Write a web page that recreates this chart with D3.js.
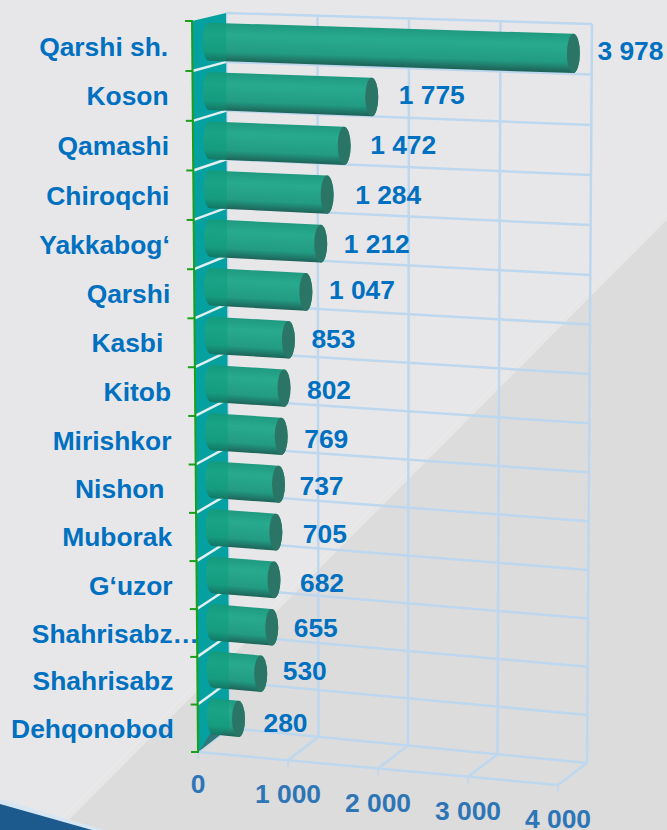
<!DOCTYPE html>
<html>
<head>
<meta charset="utf-8">
<script src="https://cdn.jsdelivr.net/npm/d3@7"></script>
<style>
html,body{margin:0;padding:0;background:#e7e7e9;}
svg{display:block;}
text{font-family:"Liberation Sans",Arial,sans-serif;font-weight:700;white-space:pre;}
</style>
</head>
<body>
<div id="chart"></div>
<script>
var categories = ['Qarshi sh.','Koson','Qamashi','Chiroqchi','Yakkabog‘','Qarshi','Kasbi ','Kitob','Mirishkor','Nishon ','Muborak','G‘uzor','Shahrisabz…','Shahrisabz','Dehqonobod'];
var values     = [3978,1775,1472,1284,1212,1047,853,802,769,737,705,682,655,530,280];
var tickValues = [0,1000,2000,3000,4000];

// hand placed label shifts, the source chart has them dragged around
var labelDx = [-3,0,-1,1,-4,-4,-4,-4,-4,-6,0,-1,-5,-5,-2];
var labelDy = [2,2,3,4,4,2,3,6,7,6,6,7,5,1,8];

var W = 667, H = 830;
var svg = d3.select('#chart').append('svg').attr('width',W).attr('height',H);
var defs = svg.append('defs');
var fmt = d3.formatLocale({decimal:'.',thousands:' ',grouping:[3],currency:['','']}).format(',d');

// background
svg.append('rect').attr('width',W).attr('height',H).attr('fill','#e7e7e9');
svg.append('path').attr('d','M667,215L60,822L70,830L667,830Z').attr('fill','#dcdcdc');
svg.append('path').attr('d','M667,212L57,822L63,826L667,220Z').attr('fill','#e9e9ea').attr('opacity',0.7);
svg.append('path').attr('d','M0,799L104,830L0,830Z').attr('fill','#d6e6f2');
svg.append('path').attr('d','M0,804L92,830L0,830Z').attr('fill','#1c5a8e');

// box corners, value -> edge position
var vDom = [0,4000];
var backTopX  = d3.scaleLinear().domain(vDom).range([226,592]);
var backTopY  = d3.scaleLinear().domain(vDom).range([13,24]);
var backBotX  = d3.scaleLinear().domain(vDom).range([229,587]);
var backBotY  = d3.scaleLinear().domain(vDom).range([728,763]);
var frontTopX = d3.scaleLinear().domain(vDom).range([192,559]);
var frontTopY = d3.scaleLinear().domain(vDom).range([21,32]);
var frontBotX = d3.scaleLinear().domain(vDom).range([198,558]);
var frontBotY = d3.scaleLinear().domain(vDom).range([752,785]);
var row = d3.scaleBand().domain(categories).range([0,1]);
var bw = row.bandwidth();

// t = 0..1 down the wall, d = 0 front, 1 back
function pt(v,t,d){
    t = t+0.028*t*(1-t); // rows get a bit shorter toward the bottom
    var fx = frontTopX(v)+(frontBotX(v)-frontTopX(v))*t, fy = frontTopY(v)+(frontBotY(v)-frontTopY(v))*t;
    var bx = backTopX(v)+(backBotX(v)-backTopX(v))*t,   by = backTopY(v)+(backBotY(v)-backTopY(v))*t;
    return [fx+(bx-fx)*d, fy+(by-fy)*d];
}
function seg(sel,a,b,color,width){
    return sel.append('line').attr('x1',a[0]).attr('y1',a[1]).attr('x2',b[0]).attr('y2',b[1])
        .attr('stroke',color).attr('stroke-width',width);
}
var rowEdges = d3.range(categories.length+1).map(function(i){ return i*bw; });
var GRID = '#bdd7ee';

// grid on back wall and floor
var grid = svg.append('g');
rowEdges.forEach(function(t){ seg(grid,pt(0,t,1),pt(4000,t,1),GRID,2.5); });
tickValues.forEach(function(v){
    seg(grid,pt(v,0,1),pt(v,1,1),GRID,2.5);
    seg(grid,pt(v,1,0),pt(v,1,1),GRID,2.5);
    var f = pt(v,1,0);
    seg(grid,f,[f[0],f[1]+7],GRID,1.5);
});
seg(grid,pt(0,1,0),pt(4000,1,0),GRID,2.5);

// side wall
var wallPts = [pt(0,0,0),pt(0,0,1),pt(0,1,1),pt(0,1,0)];
svg.append('polygon').attr('points',wallPts.join(' ')).attr('fill','#05a0a0');
defs.append('clipPath').attr('id','wallClip').append('polygon').attr('points',wallPts.join(' '));
var wallLines = svg.append('g');
rowEdges.slice(1,-1).forEach(function(t){ seg(wallLines,pt(0,t,0),pt(0,t,1),'#e2eff1',2.5); });
// shadow of the last bar on the wall foot
svg.append('polygon').attr('points',[pt(0,1,0.05),pt(0,1,0.8),pt(0,0.975,0.75)].join(' ')).attr('fill','#555').attr('opacity',0.55);

// cylinders
var barG = svg.append('g');
var R = 0.385*bw, RX = 6.5;
categories.forEach(function(c,i){
    var tm = row(c)+bw/2, v = values[i];
    var a = pt(0,tm-R,0.5), b = pt(v,tm-R,0.5), e = pt(v,tm+R,0.5), f = pt(0,tm+R,0.5);
    var ry0 = Math.hypot(f[0]-a[0],f[1]-a[1])/2, ry1 = Math.hypot(e[0]-b[0],e[1]-b[1])/2;
    var rot0 = Math.atan2(f[1]-a[1],f[0]-a[0])*180/Math.PI-90, rot1 = Math.atan2(e[1]-b[1],e[0]-b[0])*180/Math.PI-90;
    var body = 'M'+a+'L'+b+'A'+RX+','+ry1+' '+rot1+' 0 1 '+e+'L'+f+'A'+RX+','+ry0+' '+rot0+' 0 1 '+a+'Z';
    var cap  = 'M'+b+'A'+RX+','+ry1+' '+rot1+' 0 1 '+e+'A'+RX+','+ry1+' '+rot1+' 0 1 '+b+'Z';

    // gradient runs across the tilted axis of the bar
    var mx = (a[0]+b[0])/2, my = (a[1]+b[1])/2;
    var len = Math.hypot(b[0]-a[0],b[1]-a[1]), nx = -(b[1]-a[1])/len, ny = (b[0]-a[0])/len;
    var span = ry0*2;
    var g = defs.append('linearGradient').attr('id','bar'+i).attr('gradientUnits','userSpaceOnUse')
        .attr('x1',mx).attr('y1',my).attr('x2',mx+nx*span).attr('y2',my+ny*span);
    [[0,'#1f9a80'],[0.3,'#28aa8e'],[0.75,'#229c83'],[1,'#1e6459']].forEach(function(s){
        g.append('stop').attr('offset',s[0]).attr('stop-color',s[1]);
    });
    barG.append('path').attr('d',body).attr('fill','url(#bar'+i+')');
    barG.append('path').attr('d',body).attr('fill','#009a78').attr('opacity',0.35).attr('clip-path','url(#wallClip)');
    barG.append('path').attr('d',cap).attr('fill','#2a7566');
});

// left axis
var axisG = svg.append('g');
seg(axisG,pt(0,0,0),pt(0,1,0),'#1aa01a',2);
rowEdges.forEach(function(t){
    var p = pt(0,t,0);
    seg(axisG,[p[0]-7,p[1]],[p[0]+1,p[1]],'#1aa01a',2);
});

// category labels, the cut one runs past the axis
svg.append('g').selectAll('text').data(categories).join('text')
    .attr('x',function(d){ return pt(0,row(d)+bw/2,0)[0]-24+(d.slice(-1)==='…'?26:0); })
    .attr('y',function(d){ return pt(0,row(d)+bw/2,0)[1]+9.5; })
    .attr('text-anchor','end').attr('font-size',26.4).attr('fill','#0070c0')
    .text(function(d){ return d; });

// value labels
svg.append('g').selectAll('text').data(values).join('text')
    .attr('x',function(d,i){ return pt(d,row(categories[i])+bw/2,0.5)[0]+27+labelDx[i]; })
    .attr('y',function(d,i){ return pt(d,row(categories[i])+bw/2,0.5)[1]+5+labelDy[i]; })
    .attr('font-size',26.4).attr('fill','#0070c0')
    .text(function(d){ return fmt(d); });

// value axis labels
svg.append('g').selectAll('text').data(tickValues).join('text')
    .attr('x',function(d){ return pt(d,1,0)[0]; })
    .attr('y',function(d){ return pt(d,1,0)[1]+(d?43:41); })
    .attr('text-anchor','middle').attr('font-size',26.4).attr('fill','#2e75b6')
    .text(function(d){ return fmt(d); });
</script>
</body>
</html>
